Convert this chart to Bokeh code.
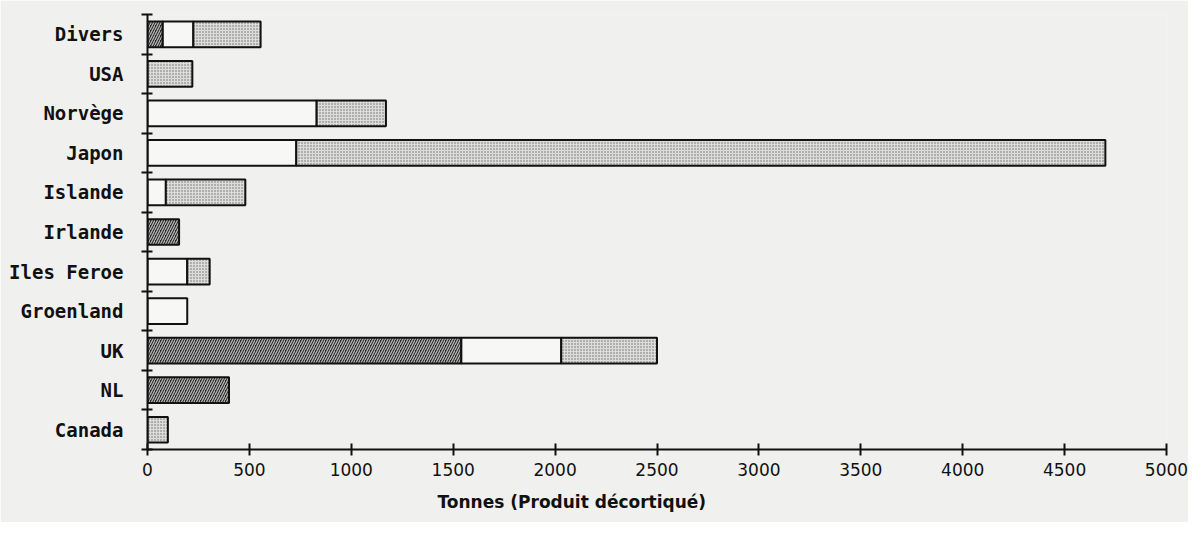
from bokeh.plotting import figure
from bokeh.models import Range1d, FixedTicker, ColumnDataSource, Title
from bokeh.embed import file_html
from bokeh.resources import INLINE

categories = ["Canada", "NL", "UK", "Groenland", "Iles Feroe", "Irlande",
              "Islande", "Japon", "Norvège", "USA", "Divers"]
hatched = [0, 400, 1540, 0, 0, 155, 0, 0, 0, 0, 75]
blank = [0, 0, 490, 195, 195, 0, 90, 730, 830, 0, 150]
dotted = [100, 0, 470, 0, 110, 0, 390, 3970, 340, 220, 330]
x_ticks = [0, 500, 1000, 1500, 2000, 2500, 3000, 3500, 4000, 4500, 5000]
x_title = "Tonnes (Produit décortiqué)"

BG = "#f0f0ee"
INK = "#111111"

p = figure(width=1188, height=522, output_backend="svg", toolbar_location=None,
           x_range=Range1d(0, 5000), y_range=Range1d(-0.5, len(categories) - 0.5),
           min_border_left=147, min_border_right=22, min_border_top=14, min_border_bottom=60)
p.background_fill_color = BG
p.border_fill_color = BG
p.outline_line_color = None
p.grid.visible = False

series = [
    (hatched, dict(fill_color="#262626", hatch_pattern="right_diagonal_line",
                   hatch_color="#b4b4b4", hatch_scale=5, hatch_weight=1.3)),
    (blank, dict(fill_color="#f7f7f5")),
    (dotted, dict(fill_color="#dcdcda", hatch_pattern="dot",
                  hatch_color="#6a6a6a", hatch_scale=3, hatch_weight=1)),
]
cum = [0] * len(categories)
for vals, style in series:
    ys, ls, rs = [], [], []
    for i, v in enumerate(vals):
        if v > 0:
            ys.append(i)
            ls.append(cum[i])
            rs.append(cum[i] + v)
        cum[i] += v
    src = ColumnDataSource(dict(y=ys, left=ls, right=rs))
    p.hbar(y="y", left="left", right="right", height=0.65, source=src,
           line_color=INK, line_width=2, **style)

# x axis
xa = p.xaxis[0]
xa.ticker = FixedTicker(ticks=x_ticks, minor_ticks=[])
xa.axis_line_width = 2
xa.axis_line_color = INK
xa.major_tick_in = 6
xa.major_tick_out = 6
xa.major_tick_line_width = 2
xa.major_tick_line_color = INK
xa.major_label_standoff = 7
xa.major_label_text_font = "DejaVu Sans"
xa.major_label_text_font_size = "17px"
xa.major_label_text_color = INK

# y axis: labels at centers, ticks at boundaries
ya = p.yaxis[0]
ya.ticker = FixedTicker(ticks=list(range(len(categories))),
                        minor_ticks=[i - 0.5 for i in range(len(categories) + 1)])
ya.major_label_overrides = {i: c for i, c in enumerate(categories)}
ya.major_tick_in = 0
ya.major_tick_out = 0
ya.minor_tick_in = 5
ya.minor_tick_out = 6
ya.minor_tick_line_width = 2
ya.minor_tick_line_color = INK
ya.axis_line_width = 2
ya.axis_line_color = INK
ya.major_label_standoff = 18
ya.major_label_text_font = "DejaVu Sans Mono"
ya.major_label_text_font_style = "bold"
ya.major_label_text_font_size = "19px"
ya.major_label_text_color = INK

p.add_layout(Title(text=x_title, align="left", offset=290, standoff=22,
                   text_font="DejaVu Sans", text_font_style="bold",
                   text_font_size="17px", text_color=INK), "below")

open("out.html", "w").write(file_html(p, INLINE))
